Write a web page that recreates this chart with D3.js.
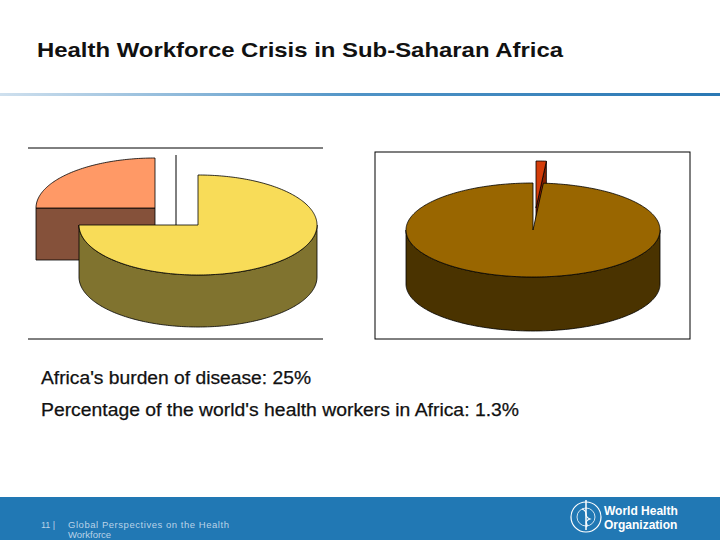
<!DOCTYPE html>
<html><head><meta charset="utf-8">
<script src="https://cdn.jsdelivr.net/npm/d3@7"></script>
<style>body{margin:0;background:#fff}svg{display:block}</style>
</head><body>
<svg id="c" width="720" height="540"></svg>
<script>
// data
var leftLabels = ["Rest of world", "Africa"];
var leftValues = [75, 25];
var rightLabels = ["Africa", "Rest of world"];
var rightValues = [1.3, 98.7];
var captions = ["Africa's burden of disease: 25%", "Percentage of the world's health workers in Africa: 1.3%"];
var captionWidths = [270, 478];

var svg = d3.select("#c");

// header
var grad = svg.append("defs").append("linearGradient").attr("id", "hl");
grad.append("stop").attr("offset", "0").attr("stop-color", "#cfe0ee");
grad.append("stop").attr("offset", "0.5").attr("stop-color", "#4f93c6");
grad.append("stop").attr("offset", "1").attr("stop-color", "#2a78b4");
svg.append("rect").attr("x", 0).attr("y", 93).attr("width", 720).attr("height", 3).attr("fill", "url(#hl)");
svg.append("text").attr("x", 37).attr("y", 57).attr("font-family", "Liberation Sans, Arial")
  .attr("font-weight", "bold").attr("font-size", 21).attr("fill", "#111")
  .attr("textLength", 526).attr("lengthAdjust", "spacingAndGlyphs")
  .text("Health Workforce Crisis in Sub-Saharan Africa");

// plot frames
svg.append("line").attr("x1", 28).attr("x2", 323).attr("y1", 148).attr("y2", 148).attr("stroke", "#000");
svg.append("line").attr("x1", 28).attr("x2", 323).attr("y1", 339).attr("y2", 339).attr("stroke", "#000");
svg.append("line").attr("x1", 176).attr("x2", 176).attr("y1", 155).attr("y2", 225).attr("stroke", "#000");
svg.append("rect").attr("x", 375).attr("y", 152).attr("width", 315).attr("height", 187)
  .attr("fill", "none").attr("stroke", "#000");

// 3D pie helper
function pt(p, a, z) { return [p.cx + p.rx * Math.sin(a), p.cy - p.ry * Math.cos(a) + z]; }
function arcPts(p, a0, a1, z) {
  var out = [], n = Math.max(2, Math.ceil((a1 - a0) / 0.02));
  for (var i = 0; i <= n; i++) out.push(pt(p, a0 + (a1 - a0) * i / n, z));
  return out;
}
var line = d3.line();

function drawPie(values, cfg) {
  var arcs = d3.pie().sort(null)(values);
  cfg.order.forEach(function (i) {
    var a = arcs[i], s = cfg.slices[i];
    var p = {cx: cfg.cx + s.dx, cy: cfg.cy + s.dy, rx: cfg.rx, ry: cfg.ry};
    var g = svg.append("g").attr("stroke", "#000").attr("stroke-width", 0.8).attr("stroke-linejoin", "round");
    // cut faces
    (s.faces || []).forEach(function (which) {
      var ang = which === "start" ? a.startAngle : a.endAngle;
      var e0 = pt(p, ang, 0), e1 = pt(p, ang, cfg.depth);
      g.append("path").attr("fill", s.side)
        .attr("d", line([[p.cx, p.cy], e0, e1, [p.cx, p.cy + cfg.depth]]) + "Z");
    });
    // front wall
    var w0 = Math.max(a.startAngle, Math.PI / 2), w1 = Math.min(a.endAngle, 3 * Math.PI / 2);
    if (w1 > w0) {
      var top = arcPts(p, w0, w1, 0), bot = arcPts(p, w0, w1, cfg.depth).reverse();
      g.append("path").attr("fill", s.side).attr("d", line(top.concat(bot)) + "Z");
    }
    // top face
    g.append("path").attr("fill", s.top)
      .attr("d", line([[p.cx, p.cy]].concat(arcPts(p, a.startAngle, a.endAngle, 0))) + "Z");
  });
}

drawPie(leftValues, {
  cx: 198, cy: 225, rx: 119, ry: 50, depth: 52, order: [1, 0],
  slices: [
    {top: "#f8dc58", side: "#80732f", dx: 0, dy: 0},
    {top: "#ff9966", side: "#85513a", dx: -43, dy: -17, faces: ["start"]}
  ]
});
drawPie(rightValues, {
  cx: 533, cy: 230, rx: 127, ry: 47, depth: 54, order: [0, 1],
  slices: [
    {top: "#d43d0a", side: "#8a2000", dx: 3, dy: -22, faces: ["end"]},
    {top: "#996600", side: "#4a3300", dx: 0, dy: 0}
  ]
});

// captions
svg.selectAll("text.cap").data(captions).enter().append("text").attr("class", "cap")
  .attr("x", 41).attr("y", function (d, i) { return 384 + i * 32; })
  .attr("font-family", "Liberation Sans, Arial").attr("font-size", 17.5).attr("fill", "#111")
  .attr("stroke", "#111").attr("stroke-width", 0.25)
  .attr("textLength", function (d, i) { return captionWidths[i]; }).attr("lengthAdjust", "spacingAndGlyphs")
  .text(function (d) { return d; });

// footer
svg.append("rect").attr("x", 0).attr("y", 497).attr("width", 720).attr("height", 43).attr("fill", "#2178b4");
svg.append("text").attr("x", 41).attr("y", 528).attr("font-family", "Liberation Sans, Arial")
  .attr("font-size", 9).attr("fill", "#b9d3e8").text("11 |");
svg.append("text").attr("x", 68).attr("y", 528).attr("font-family", "Liberation Sans, Arial")
  .attr("font-size", 9.5).attr("fill", "#b9d3e8").attr("textLength", 161).attr("lengthAdjust", "spacing")
  .text("Global Perspectives on the Health");
svg.append("text").attr("x", 68).attr("y", 538).attr("font-family", "Liberation Sans, Arial")
  .attr("font-size", 9.5).attr("fill", "#b9d3e8").text("Workforce");
var logo = svg.append("g").attr("transform", "translate(586,517)").attr("fill", "none").attr("stroke", "#fff");
logo.append("circle").attr("r", 15).attr("stroke-width", 1.2);
logo.append("circle").attr("r", 9).attr("stroke-width", 0.8);
logo.append("line").attr("x1", 0).attr("x2", 0).attr("y1", -17).attr("y2", 13).attr("stroke-width", 1.5);
logo.append("path").attr("d", "M-4,-8 C4,-5 -4,-1 4,2 C-4,5 4,8 0,10").attr("stroke-width", 1.2);
svg.append("text").attr("x", 604).attr("y", 515).attr("font-family", "Liberation Sans Narrow, Arial Narrow, Liberation Sans")
  .attr("font-weight", "bold").attr("font-size", 12).attr("fill", "#fff").text("World Health");
svg.append("text").attr("x", 604).attr("y", 529).attr("font-family", "Liberation Sans Narrow, Arial Narrow, Liberation Sans")
  .attr("font-weight", "bold").attr("font-size", 12).attr("fill", "#fff").text("Organization");
</script>
</body></html>
